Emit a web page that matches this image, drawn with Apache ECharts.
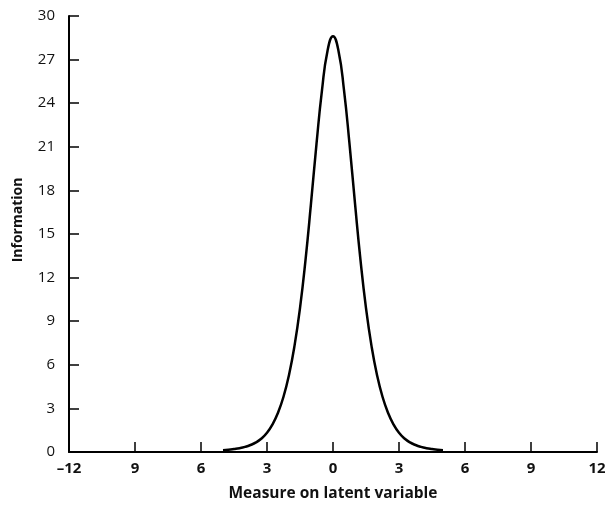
<html lang="en">
<head>
    <meta charset="UTF-8">
    <title>Information</title>
    <script type="text/javascript" src="https://cdn.jsdelivr.net/npm/echarts@6/dist/echarts.min.js"></script>
    <style>
        html, body { margin: 0; padding: 0; background: #fff; }
        #chart { width: 605px; height: 505px; }
    </style>
</head>
<body>
<div id="chart"></div>
<script>
    // values
    var theta = [-5, -4.75, -4.5, -4.25, -4, -3.75, -3.5, -3.25, -3, -2.75, -2.5, -2.25, -2, -1.75, -1.5, -1.25, -1, -0.75, -0.5, -0.25,
        0, 0.25, 0.5, 0.75, 1, 1.25, 1.5, 1.75, 2, 2.25, 2.5, 2.75, 3, 3.25, 3.5, 3.75, 4, 4.25, 4.5, 4.75, 5];
    var info = [0.12, 0.15, 0.2, 0.26, 0.35, 0.48, 0.66, 0.93, 1.32, 1.9, 2.7, 3.8, 5.3, 7.3, 9.9, 13.2, 17.1, 21.2, 24.9, 27.6,
        28.6, 27.6, 24.9, 21.2, 17.1, 13.2, 9.9, 7.3, 5.3, 3.8, 2.7, 1.9, 1.32, 0.93, 0.66, 0.48, 0.35, 0.26, 0.2, 0.15, 0.12];
    var xTicks = [-12, -9, -6, -3, 0, 3, 6, 9, 12];
    var xTickLabels = ['–12', '9', '6', '3', '0', '3', '6', '9', '12'];

    var points = [];
    for (var i = 0; i < theta.length; i++) {
        points.push([theta[i], info[i]]);
    }

    var chart = echarts.init(document.getElementById('chart'));
    var font = 'Open Sans';
    var option = {
        animation: false,
        grid: {left: 69, right: 8, top: 16, bottom: 53, outerBoundsMode: 'none'},
        xAxis: {
            type: 'value',
            min: -12, max: 12, interval: 3,
            name: 'Measure on latent variable',
            nameLocation: 'middle',
            nameGap: 34,
            nameTextStyle: {color: '#111', fontSize: 15.5, fontWeight: 'bold', fontFamily: font},
            axisLine: {onZero: false, lineStyle: {color: '#000', width: 2}},
            axisTick: {inside: true, length: 10, lineStyle: {color: '#000', width: 1.5}},
            axisLabel: {
                color: '#111', fontSize: 15, fontWeight: 'bold', fontFamily: font, margin: 9,
                formatter: function (v) {
                    var k = xTicks.indexOf(v);
                    return k >= 0 ? xTickLabels[k] : '';
                }
            },
            splitLine: {show: false}
        },
        yAxis: {
            type: 'value',
            min: 0, max: 30, interval: 3,
            name: 'Information',
            nameLocation: 'middle',
            nameGap: 44,
            nameTextStyle: {color: '#111', fontSize: 14, fontWeight: 'bold', fontFamily: font, padding: [0, 0, 0, 28]},
            axisLine: {show: true, onZero: false, lineStyle: {color: '#000', width: 2}},
            axisTick: {show: true, inside: true, length: 10, lineStyle: {color: '#000', width: 1.5}},
            axisLabel: {color: '#111', fontSize: 15, fontFamily: font, margin: 14},
            splitLine: {show: false}
        },
        series: [{
            type: 'line',
            data: points,
            smooth: true,
            showSymbol: false,
            lineStyle: {color: '#000', width: 2.5}
        }]
    };
    chart.setOption(option);
</script>
</body>
</html>
